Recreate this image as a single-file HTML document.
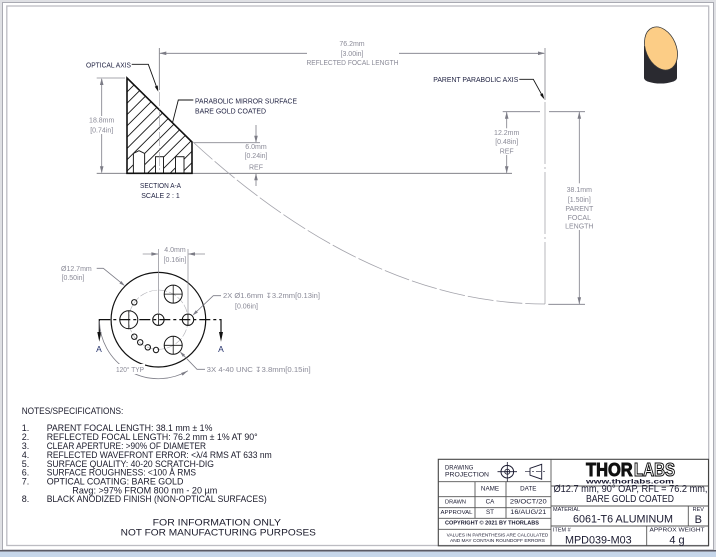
<!DOCTYPE html>
<html><head><meta charset="utf-8">
<style>
html,body{margin:0;padding:0;background:#fff;}
svg{display:block;}
text{font-family:"Liberation Sans",Arial,sans-serif;}
.d{fill:#8a8a97;font-size:7px;}
.k{fill:#1e2040;font-size:7px;}
.n{fill:#1a1a2a;font-size:9px;}
.t{fill:#1a1a30;}
</style></head><body>
<svg width="716" height="557" viewBox="0 0 716 557" xmlns="http://www.w3.org/2000/svg">
<defs>
<clipPath id="sec"><polygon points="127,78 192,142 192,173.3 127,173.3"/></clipPath>
</defs>
<!-- frame -->
<rect x="0" y="0" width="716" height="557" fill="#dfe0e4"/>
<rect x="2.5" y="2.5" width="711" height="547.5" fill="#fff" stroke="#a9aab2" stroke-width="1"/>
<rect x="6.8" y="6" width="701.9" height="539.5" fill="none" stroke="#bcbcc2" stroke-width="1.3"/>
<rect x="0" y="550" width="716" height="1.6" fill="#5a5a66"/>
<rect x="0" y="551.6" width="716" height="5.4" fill="#c6d6ea"/>

<!-- mirror icon -->
<path d="M644,46 L644,78 A16.5,5.5 0 0 0 677,78 L677,57 Z" fill="#2a2a30"/>
<ellipse cx="661" cy="48.5" rx="15.2" ry="22.5" transform="rotate(-23 661 48.5)" fill="#fccd86" stroke="#3a3a3a" stroke-width="0.8"/>

<!-- ===== SECTION A-A ===== -->
<g clip-path="url(#sec)" stroke="#151515" stroke-width="0.9">
<line x1="100" y1="119" x2="200" y2="19"/>
<line x1="100" y1="130.3" x2="200" y2="30.3"/>
<line x1="100" y1="141.6" x2="200" y2="41.6"/>
<line x1="100" y1="152.9" x2="200" y2="52.9"/>
<line x1="100" y1="164.2" x2="200" y2="64.2"/>
<line x1="100" y1="175.5" x2="200" y2="75.5"/>
<line x1="100" y1="186.8" x2="200" y2="86.8"/>
<line x1="100" y1="198.1" x2="200" y2="98.1"/>
<line x1="100" y1="209.4" x2="200" y2="109.4"/>
<line x1="100" y1="220.7" x2="200" y2="120.7"/>
<line x1="100" y1="232" x2="200" y2="132"/>
<line x1="100" y1="243.3" x2="200" y2="143.3"/>
<line x1="100" y1="254.6" x2="200" y2="154.6"/>
<line x1="100" y1="265.9" x2="200" y2="165.9"/>
</g>
<path d="M133.4,173.3 V153.4 L139,150.7 L144.6,153.4 V173.3 Z" fill="#fff" stroke="#222" stroke-width="1"/>
<rect x="155.5" y="156.7" width="8" height="16.6" fill="#fff" stroke="#222" stroke-width="1"/>
<rect x="175.5" y="156.7" width="8.5" height="16.6" fill="#fff" stroke="#222" stroke-width="1"/>
<!-- base / extension lines -->
<line x1="96.7" y1="173.3" x2="512" y2="173.3" stroke="#707078" stroke-width="0.9"/>
<line x1="96.7" y1="78" x2="125" y2="78" stroke="#8a8a92" stroke-width="0.8"/>
<line x1="194" y1="142.7" x2="260" y2="142.7" stroke="#8a8a92" stroke-width="0.8"/>
<polygon points="127,78 192,142 192,173.3 127,173.3" fill="none" stroke="#111" stroke-width="1.6"/>
<!-- optical axis -->
<line x1="159.3" y1="48" x2="159.3" y2="90" stroke="#707078" stroke-width="0.8"/>
<line x1="159.3" y1="92" x2="159.3" y2="173" stroke="#9a9aa0" stroke-width="0.6" stroke-dasharray="14 2 2 2"/>
<!-- parabola -->
<path d="M193,142 Q369,304 545,304" fill="none" stroke="#a2a2aa" stroke-width="0.8" stroke-dasharray="26 3"/>
<!-- parent axis -->
<line x1="545" y1="48" x2="545" y2="100" stroke="#808088" stroke-width="0.8"/>
<line x1="545" y1="102" x2="545" y2="304" stroke="#9a9aa0" stroke-width="0.7" stroke-dasharray="62 3 2 3"/>

<!-- dims -->
<g stroke="#7c7c86" stroke-width="0.8">
<line x1="160" y1="53.3" x2="307" y2="53.3"/>
<line x1="399" y1="53.3" x2="544" y2="53.3"/>
<line x1="101.7" y1="79" x2="101.7" y2="116"/>
<line x1="101.7" y1="134" x2="101.7" y2="172.5"/>
<line x1="256" y1="125" x2="256" y2="142"/>
<line x1="256" y1="174" x2="256" y2="186"/>
<line x1="502.7" y1="111.7" x2="540" y2="111.7"/>
<line x1="549" y1="111.7" x2="585" y2="111.7"/>
<line x1="506.7" y1="112" x2="506.7" y2="128.3"/>
<line x1="506.7" y1="155" x2="506.7" y2="173"/>
<line x1="579.3" y1="112" x2="579.3" y2="183.3"/>
<line x1="579.3" y1="230" x2="579.3" y2="304"/>
<line x1="548.3" y1="304.3" x2="585" y2="304.3"/>
</g>
<g fill="#7c7c86">
<polygon points="159.3,53.3 166.3,51.5 166.3,55.1"/>
<polygon points="545,53.3 538,51.5 538,55.1"/>
<polygon points="101.7,78 99.9,85 103.5,85"/>
<polygon points="101.7,173.3 99.9,166.3 103.5,166.3"/>
<polygon points="256,142.7 254.2,135.7 257.8,135.7"/>
<polygon points="256,173.3 254.2,180.3 257.8,180.3"/>
<polygon points="506.7,111.7 504.9,118.7 508.5,118.7"/>
<polygon points="506.7,173.3 504.9,166.3 508.5,166.3"/>
<polygon points="579.3,111.7 577.5,118.7 581.1,118.7"/>
<polygon points="579.3,304.3 577.5,297.3 581.1,297.3"/>
</g>
<!-- leaders -->
<g stroke="#111" stroke-width="0.9" fill="none">
<polyline points="131.7,64.3 148.3,64.3 157.5,89.5"/>
<polyline points="193.3,100 178.3,100 172.5,122.8"/>
<polyline points="519.3,79.3 533.3,79.3 543.5,97.8"/>
</g>
<polygon points="158.3,91.7 154.74,86.62 157.74,85.52" fill="#111"/>
<polygon points="544.3,99.3 540.01,94.81 542.81,93.27" fill="#111"/>

<!-- texts top -->
<text class="d" x="352" y="46" text-anchor="middle">76.2mm</text>
<text class="d" x="352" y="56" text-anchor="middle">[3.00in]</text>
<text class="d" x="352.5" y="65" text-anchor="middle" textLength="92" lengthAdjust="spacingAndGlyphs">REFLECTED FOCAL LENGTH</text>
<text class="d" x="101.7" y="122.5" text-anchor="middle">18.8mm</text>
<text class="d" x="101.7" y="132.5" text-anchor="middle">[0.74in]</text>
<text class="d" x="256" y="149" text-anchor="middle">6.0mm</text>
<text class="d" x="256" y="158" text-anchor="middle">[0.24in]</text>
<text class="d" x="256" y="169.5" text-anchor="middle" font-size="6.5">REF</text>
<text class="d" x="506.7" y="135" text-anchor="middle">12.2mm</text>
<text class="d" x="506.7" y="144" text-anchor="middle">[0.48in]</text>
<text class="d" x="506.7" y="153.5" text-anchor="middle" font-size="6.5">REF</text>
<text class="d" x="579.3" y="192" text-anchor="middle">38.1mm</text>
<text class="d" x="579.3" y="202" text-anchor="middle">[1.50in]</text>
<text class="d" x="579.3" y="211" text-anchor="middle">PARENT</text>
<text class="d" x="579.3" y="220" text-anchor="middle">FOCAL</text>
<text class="d" x="579.3" y="228.5" text-anchor="middle">LENGTH</text>
<text class="k" x="86" y="67.5" textLength="45" lengthAdjust="spacingAndGlyphs">OPTICAL AXIS</text>
<text class="k" x="195" y="103.5" textLength="102" lengthAdjust="spacingAndGlyphs">PARABOLIC MIRROR SURFACE</text>
<text class="k" x="195" y="113.5" textLength="71" lengthAdjust="spacingAndGlyphs">BARE GOLD COATED</text>
<text class="k" x="160.5" y="188" text-anchor="middle" textLength="41" lengthAdjust="spacingAndGlyphs">SECTION A-A</text>
<text class="k" x="160.5" y="198" text-anchor="middle">SCALE 2 : 1</text>
<text class="k" x="433.3" y="82" textLength="85" lengthAdjust="spacingAndGlyphs">PARENT PARABOLIC AXIS</text>

<!-- ===== BOTTOM VIEW ===== -->
<circle cx="158.4" cy="319.7" r="29.6" fill="none" stroke="#b0b0b6" stroke-width="0.6" stroke-dasharray="8 2"/>
<circle cx="158.4" cy="319.7" r="47.3" fill="none" stroke="#111" stroke-width="1.2"/>
<g fill="none" stroke="#111" stroke-width="1">
<circle cx="128.8" cy="319.7" r="9"/>
<circle cx="173.2" cy="294.1" r="9"/>
<circle cx="173.2" cy="345.3" r="9"/>
<circle cx="158.4" cy="319.7" r="5.7"/>
<circle cx="188" cy="319.7" r="5.7"/>
<circle cx="134.3" cy="302.3" r="2.7"/>
<circle cx="134.3" cy="336.7" r="2.7"/>
<circle cx="140.2" cy="342.3" r="2.7"/>
<circle cx="147.8" cy="347.3" r="2.7"/>
<circle cx="156" cy="350" r="2.7"/>
</g>
<g stroke="#111" stroke-width="0.8">
<line x1="128.8" y1="310.7" x2="128.8" y2="328.7"/>
<line x1="173.2" y1="285.1" x2="173.2" y2="303.1"/><line x1="164.2" y1="294.1" x2="182.2" y2="294.1"/>
<line x1="173.2" y1="336.3" x2="173.2" y2="354.3"/><line x1="164.2" y1="345.3" x2="182.2" y2="345.3"/>
<line x1="158.4" y1="314" x2="158.4" y2="325.4"/>
<line x1="188" y1="314" x2="188" y2="325.4"/>
</g>
<!-- section line -->
<line x1="99.3" y1="319.6" x2="221" y2="319.6" stroke="#111" stroke-width="1.3" stroke-dasharray="11 3 3 3"/>
<line x1="99.3" y1="319" x2="99.3" y2="334" stroke="#111" stroke-width="1.2"/>
<line x1="221" y1="319" x2="221" y2="334" stroke="#111" stroke-width="1.2"/>
<polygon points="99.3,341.7 97.3,332 101.3,332" fill="#111"/>
<polygon points="221,341.7 219,332 223,332" fill="#111"/>
<text x="99" y="352" text-anchor="middle" font-size="8.5" fill="#23306a">A</text>
<text x="221" y="352" text-anchor="middle" font-size="8.5" fill="#23306a">A</text>
<!-- 4.0 dim -->
<g stroke="#8a8a92" stroke-width="0.7">
<line x1="158.4" y1="249" x2="158.4" y2="313"/>
<line x1="188" y1="249" x2="188" y2="313"/>
<line x1="142.7" y1="254" x2="158" y2="254"/>
<line x1="188.5" y1="254" x2="205" y2="254"/>
</g>
<polygon points="158.4,254 151.4,252.2 151.4,255.8" fill="#7c7c86"/>
<polygon points="188,254 195,252.2 195,255.8" fill="#7c7c86"/>
<text class="d" x="175" y="252" text-anchor="middle">4.0mm</text>
<text class="d" x="175" y="262" text-anchor="middle">[0.16in]</text>
<!-- leaders bottom view -->
<g stroke="#7c7c86" stroke-width="0.8" fill="none">
<polyline points="96.7,268.3 103.3,268.3 123,284.3"/>
<polyline points="221,295.7 213.3,295.7 194,314"/>
<polyline points="205,369.3 197,369.3 181,352.7"/>
<path d="M99.4,321 A59,59 0 0 0 187.9,370.8"/>
</g>
<polygon points="125,286 119.4,283.37 121.3,281.05" fill="#7c7c86"/>
<polygon points="192.5,315.5 195.81,310.27 197.89,312.45" fill="#7c7c86"/>
<polygon points="179.8,351.5 185.05,354.77 182.89,356.85" fill="#7c7c86"/>
<polygon points="187.9,370.8 182.59,375.6 181.09,373" fill="#7c7c86"/>
<rect x="115" y="364" width="30" height="10" fill="#fff"/>
<text class="d" x="61" y="271">Ø12.7mm</text>
<text class="d" x="61.5" y="280">[0.50in]</text>
<text class="d" x="223" y="298" textLength="97" lengthAdjust="spacingAndGlyphs">2X  Ø1.6mm ↧3.2mm[0.13in]</text>
<text class="d" x="235" y="308.5">[0.06in]</text>
<text class="d" x="116" y="372" textLength="28" lengthAdjust="spacingAndGlyphs">120° TYP</text>
<text class="d" x="206.7" y="372" textLength="104" lengthAdjust="spacingAndGlyphs">3X 4-40 UNC ↧3.8mm[0.15in]</text>

<!-- ===== NOTES ===== -->
<text class="n" x="21.7" y="414" font-size="8.3" textLength="101.6" lengthAdjust="spacingAndGlyphs">NOTES/SPECIFICATIONS:</text>
<text class="n" x="21.7" y="431">1.</text>
<text class="n" x="21.7" y="440">2.</text>
<text class="n" x="21.7" y="449">3.</text>
<text class="n" x="21.7" y="458">4.</text>
<text class="n" x="21.7" y="466.8">5.</text>
<text class="n" x="21.7" y="475.7">6.</text>
<text class="n" x="21.7" y="484.4">7.</text>
<text class="n" x="21.7" y="502.2">8.</text>
<text class="n" x="46.7" y="431" textLength="165.7" lengthAdjust="spacingAndGlyphs">PARENT FOCAL LENGTH: 38.1 mm ± 1%</text>
<text class="n" x="46.7" y="440" textLength="211" lengthAdjust="spacingAndGlyphs">REFLECTED FOCAL LENGTH: 76.2 mm ± 1% AT 90°</text>
<text class="n" x="46.7" y="449" textLength="159.3" lengthAdjust="spacingAndGlyphs">CLEAR APERTURE: &gt;90% OF DIAMETER</text>
<text class="n" x="46.7" y="458" textLength="225" lengthAdjust="spacingAndGlyphs">REFLECTED WAVEFRONT ERROR: &lt;λ/4 RMS AT 633 nm</text>
<text class="n" x="46.7" y="466.8" textLength="167.3" lengthAdjust="spacingAndGlyphs">SURFACE QUALITY: 40-20 SCRATCH-DIG</text>
<text class="n" x="46.7" y="475.7" textLength="149.3" lengthAdjust="spacingAndGlyphs">SURFACE ROUGHNESS: &lt;100 Å RMS</text>
<text class="n" x="46.7" y="484.4" textLength="136.7" lengthAdjust="spacingAndGlyphs">OPTICAL COATING: BARE GOLD</text>
<text class="n" x="72.3" y="493.3" textLength="145" lengthAdjust="spacingAndGlyphs">Ravg: &gt;97% FROM 800 nm - 20 µm</text>
<text class="n" x="46.7" y="502.2" textLength="220" lengthAdjust="spacingAndGlyphs">BLACK ANODIZED FINISH (NON-OPTICAL SURFACES)</text>
<text class="n" x="216.8" y="525.7" font-size="10.3" text-anchor="middle" textLength="128.3" lengthAdjust="spacingAndGlyphs">FOR INFORMATION ONLY</text>
<text class="n" x="218.3" y="535.7" font-size="10.3" text-anchor="middle" textLength="195.3" lengthAdjust="spacingAndGlyphs">NOT FOR MANUFACTURING PURPOSES</text>

<!-- ===== TITLE BLOCK ===== -->
<g stroke="#555" stroke-width="0.9" fill="none">
<rect x="438.3" y="459.3" width="270.2" height="86.5" stroke="#444" stroke-width="1.1"/>
<line x1="551" y1="459.3" x2="551" y2="545.8"/>
<line x1="438.3" y1="481.7" x2="551" y2="481.7"/>
<line x1="438.3" y1="496.7" x2="551" y2="496.7"/>
<line x1="438.3" y1="507.7" x2="551" y2="507.7"/>
<line x1="438.3" y1="518.3" x2="551" y2="518.3"/>
<line x1="438.3" y1="529.3" x2="551" y2="529.3"/>
<line x1="475" y1="481.7" x2="475" y2="518.3"/>
<line x1="506" y1="481.7" x2="506" y2="518.3"/>
<line x1="551" y1="486" x2="708.5" y2="486"/>
<line x1="551" y1="506" x2="708.5" y2="506"/>
<line x1="551" y1="526" x2="708.5" y2="526"/>
<line x1="688.3" y1="506" x2="688.3" y2="526"/>
<line x1="646.7" y1="526" x2="646.7" y2="545.8"/>
</g>
<!-- projection symbol -->
<g stroke="#1a1a30" fill="none">
<circle cx="507.3" cy="471.7" r="6.3" stroke-width="1"/>
<circle cx="507.3" cy="471.7" r="2.5" stroke-width="0.9"/>
<line x1="497.5" y1="471.7" x2="517" y2="471.7" stroke-width="0.8"/>
<line x1="507.3" y1="462" x2="507.3" y2="481.5" stroke-width="0.8"/>
<polygon points="530,468.3 541.7,464.3 541.7,479.2 530,475.2" stroke-width="0.9"/>
<line x1="525" y1="471.7" x2="546" y2="471.7" stroke-width="0.7" stroke-dasharray="5 2 2 2"/>
</g>
<circle cx="507.3" cy="471.7" r="0.9" fill="#1a1a30"/>
<text class="t" x="445" y="469.3" font-size="6.3" textLength="28.3" lengthAdjust="spacingAndGlyphs">DRAWING</text>
<text class="t" x="445" y="476.7" font-size="6.3" textLength="44" lengthAdjust="spacingAndGlyphs">PROJECTION</text>
<text class="t" x="490" y="490.7" font-size="6.3" text-anchor="middle">NAME</text>
<text class="t" x="528.3" y="490.7" font-size="6.3" text-anchor="middle">DATE</text>
<text class="t" x="455.5" y="503.3" font-size="5.6" text-anchor="middle">DRAWN</text>
<text class="t" x="490" y="503.3" font-size="6.3" text-anchor="middle">CA</text>
<text class="t" x="528.3" y="503.3" font-size="6.3" text-anchor="middle" textLength="36.7" lengthAdjust="spacingAndGlyphs">29/OCT/20</text>
<text class="t" x="456.5" y="514" font-size="5.6" text-anchor="middle" textLength="32" lengthAdjust="spacingAndGlyphs">APPROVAL</text>
<text class="t" x="490" y="514" font-size="6.3" text-anchor="middle">ST</text>
<text class="t" x="528.3" y="514" font-size="6.3" text-anchor="middle" textLength="36" lengthAdjust="spacingAndGlyphs">16/AUG/21</text>
<text class="t" x="492" y="524.7" font-size="5" font-weight="bold" text-anchor="middle" textLength="94" lengthAdjust="spacingAndGlyphs">COPYRIGHT © 2021 BY THORLABS</text>
<text class="t" x="497.5" y="536.3" font-size="4.6" text-anchor="middle" textLength="101.6" lengthAdjust="spacingAndGlyphs">VALUES IN PARENTHESIS ARE CALCULATED</text>
<text class="t" x="497.5" y="542" font-size="4.6" text-anchor="middle" textLength="95" lengthAdjust="spacingAndGlyphs">AND MAY CONTAIN ROUNDOFF ERRORS</text>
<!-- logo -->
<text x="586" y="476" font-size="18.5" font-weight="bold" fill="#111" stroke="#111" stroke-width="0.9" textLength="46.7" lengthAdjust="spacingAndGlyphs">THOR</text>
<text x="634" y="476" font-size="18.5" font-weight="bold" fill="#fff" stroke="#111" stroke-width="1.1" textLength="41" lengthAdjust="spacingAndGlyphs">LABS</text>
<text class="t" x="586" y="483.6" font-size="6" font-weight="bold" textLength="88" lengthAdjust="spacingAndGlyphs">www.thorlabs.com</text>
<text class="t" x="553.5" y="491.8" font-size="10" textLength="154" lengthAdjust="spacingAndGlyphs">Ø12.7 mm, 90° OAP, RFL = 76.2 mm,</text>
<text class="t" x="630" y="502" font-size="10" text-anchor="middle" textLength="88" lengthAdjust="spacingAndGlyphs">BARE GOLD COATED</text>
<text class="t" x="553" y="510.8" font-size="5.5">MATERIAL</text>
<text class="t" x="623" y="522.5" font-size="11" text-anchor="middle" textLength="100" lengthAdjust="spacingAndGlyphs">6061-T6 ALUMINUM</text>
<text class="t" x="698.3" y="510.8" font-size="5.5" text-anchor="middle">REV</text>
<text class="t" x="698.3" y="523" font-size="11" text-anchor="middle">B</text>
<text class="t" x="553" y="531.3" font-size="5.5">ITEM #</text>
<text class="t" x="598.3" y="543.3" font-size="11" text-anchor="middle" textLength="66.7" lengthAdjust="spacingAndGlyphs">MPD039-M03</text>
<text class="t" x="649.5" y="531.3" font-size="5.5" textLength="55" lengthAdjust="spacingAndGlyphs">APPROX WEIGHT</text>
<text class="t" x="677" y="543.3" font-size="11" text-anchor="middle">4 g</text>
</svg>
</body></html>
